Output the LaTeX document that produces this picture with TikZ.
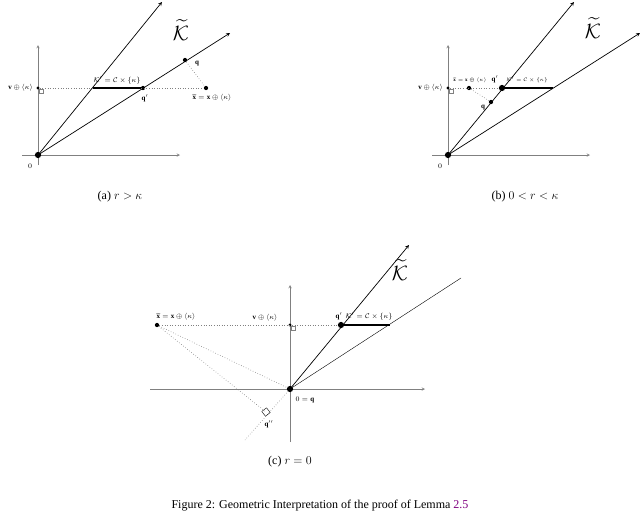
\documentclass[tikz,border=0pt]{standalone}
\usepackage{amsmath,amssymb}
\usepackage{fontspec}
\setmainfont{Liberation Serif}
\begin{document}
\begin{tikzpicture}[x=1pt,y=-1pt,
 ax/.style={gray,->,>=stealth,line width=0.5pt},
 ray/.style={->,>=stealth,line width=0.7pt},
 seg/.style={line width=1.1pt},
 dot/.style={dotted,gray,line width=0.6pt},
 pt/.style={circle,fill,inner sep=1.5pt},
 bpt/.style={circle,fill,inner sep=2.2pt},
 lbl/.style={font=\scriptsize,inner sep=1pt},
 big/.style={font=\huge,inner sep=0pt},
 captxt/.style={font=\large}]
\useasboundingbox (0,0) rectangle (640,512);
% ---- (a)
\coordinate (aO) at (38,155);
\draw[ax] (22,155) -- (180,155);
\draw[ax] (38,165) -- (38,45);
\coordinate (aS) at (162,2); \coordinate (aR) at (230,33);
\draw[ray] (aO) -- (aS); \draw[ray] (aO) -- (aR);
\node[pt] (ax) at (206,88) {};
\node[pt] (aqp) at (143,88) {};
\node[pt] (aq) at (185,60) {};
\node[pt,inner sep=1.2pt] (av) at (38,88) {};
\coordinate (ak) at (93,88);
\draw[dot] (av) -- (ax); \draw[dot] (aq) -- (ax);
\draw[seg] (ak) -- (aqp);
\draw[gray,line width=0.4pt] (39,89) rectangle (43,93);
\node[bpt] at (aO) {};
\node[lbl,anchor=east] at (34,88) {$\mathbf v\oplus\langle\kappa\rangle$};
\node[lbl] at (117,80) {$\mathcal K'=\mathcal C\times\{\kappa\}$};
\node[lbl] at (145,98) {$\mathbf q'$};
\node[lbl] at (197,64) {$\mathbf q$};
\node[lbl] at (212,98) {$\widetilde{\mathbf x}=\mathbf x\oplus\langle\kappa\rangle$};
\node[big] at (181,30) {$\widetilde{\mathcal K}$};
\node[lbl] at (30,166) {$0$};
\node[captxt] at (120,197) {(a) $r>\kappa$};
% ---- (b)
\coordinate (bO) at (448,155);
\draw[ax] (432,155) -- (590,155);
\draw[ax] (448,165) -- (448,45);
\draw[ray] (bO) -- (574,2); \draw[ray] (bO) -- (640,33);
\node[pt] (bx) at (469,88) {};
\node[bpt] (bqp) at (502,88) {};
\node[pt] (bq) at (491,102) {};
\node[pt,inner sep=1.2pt] (bv) at (448,88) {};
\coordinate (bk) at (553,88);
\draw[dot] (bv) -- (bqp); \draw[dot] (bx) -- (bq);
\draw[seg] (bqp) -- (bk);
\draw[gray,line width=0.4pt] (449,89) rectangle (453,93);
\node[bpt] at (bO) {};
\node[lbl,anchor=east] at (444,88) {$\mathbf v\oplus\langle\kappa\rangle$};
\node[lbl,font=\tiny] at (470,80) {$\widetilde{\mathbf x}=\mathbf x\oplus\langle\kappa\rangle$};
\node[lbl] at (495,79) {$\mathbf q'$};
\node[lbl,font=\tiny] at (527,80) {$\mathcal K'=\mathcal C\times\{\kappa\}$};
\node[lbl] at (483,108) {$\mathbf q$};
\node[big] at (593,28) {$\widetilde{\mathcal K}$};
\node[lbl] at (440,166) {$0$};
\node[captxt] at (525,197) {(b) $0<r<\kappa$};
% ---- (c)
\coordinate (cO) at (290,389);
\draw[ax] (150,389) -- (425,389);
\draw[ax] (290,442) -- (290,285);
\draw[ray] (cO) -- (409,245); \draw (cO) -- (461,278);
\node[pt] (cx) at (157,325) {};
\node[bpt] (cqp) at (341,325) {};
\node[pt,inner sep=1.2pt] (cv) at (290,325) {};
\coordinate (cq2) at (266,412);
\coordinate (cend) at (245,440);
\coordinate (ck) at (390,325);
\draw[dot] (cx) -- (cqp); \draw[dot] (cx) -- (cO); \draw[dot] (cx) -- (cq2);
\draw[dot] (cO) -- (cend);
\draw[seg] (cqp) -- (ck);
\draw[gray,line width=0.4pt] (291,326) rectangle (295,330);
\draw[line width=0.4pt,rotate around={38:(266,412)}] (263,409) rectangle (269,415);
\node[bpt] at (cO) {};
\node[lbl] at (176,317) {$\widetilde{\mathbf x}=\mathbf x\oplus\langle\kappa\rangle$};
\node[lbl] at (265,318) {$\mathbf v\oplus\langle\kappa\rangle$};
\node[lbl] at (339,316) {$\mathbf q'$};
\node[lbl] at (369,316) {$\mathcal K'=\mathcal C\times\{\kappa\}$};
\node[lbl] at (305,400) {$0=\mathbf q$};
\node[lbl] at (269,424) {$\mathbf q''$};
\node[big] at (400,270) {$\widetilde{\mathcal K}$};
\node[captxt] at (290,462) {(c) $r=0$};
\node[captxt,anchor=base] at (320,508) {Figure 2: Geometric Interpretation of the proof of Lemma \textcolor{violet}{2.5}};
\end{tikzpicture}
\end{document}
